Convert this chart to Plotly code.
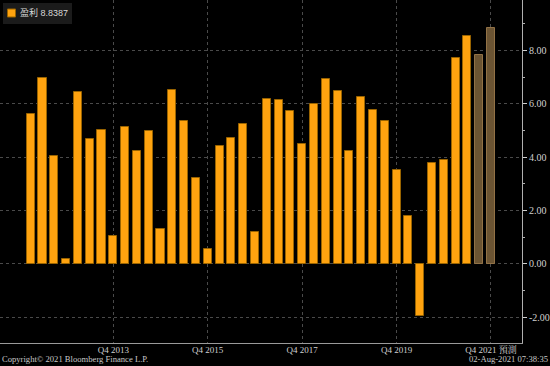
import plotly.graph_objects as go

quarters = [f"Q{q} {y}" for y in range(2012, 2022) for q in range(1, 5)]
actual_values = [5.63, 6.98, 4.03, 0.20, 6.45, 4.68, 5.02, 1.03,
                 5.15, 4.25, 4.98, 1.31, 6.53, 5.37, 3.21, 0.55,
                 4.43, 4.74, 5.23, 1.18, 6.17, 6.14, 5.72, 4.48,
                 6.00, 6.93, 6.48, 4.24, 6.27, 5.77, 5.37, 3.54,
                 1.80, -1.94, 3.80, 3.90, 7.72, 8.54]
forecast_values = [7.83, 8.8387]
tick_quarters = ["Q4 2013", "Q4 2015", "Q4 2017", "Q4 2019", "Q4 2021"]
tick_labels = ["Q4 2013", "Q4 2015", "Q4 2017", "Q4 2019", "Q4 2021 預測"]
y_ticks = [-2, 0, 2, 4, 6, 8]
legend_label = "盈利"
legend_value = "8.8387"

n_act = len(actual_values)
x_act = list(range(n_act))
x_fc = list(range(n_act, n_act + len(forecast_values)))
tick_idx = [quarters.index(q) for q in tick_quarters]

serif = "Liberation Serif, Noto Serif CJK TC, Noto Sans CJK TC, serif"
sans = "Liberation Sans, Noto Sans CJK TC, sans-serif"

PW, PH = 522, 343  # plot area size in px


def px(x):
    return x / PW


def py(y):
    return 1 - y / PH


fig = go.Figure()
fig.add_trace(go.Bar(
    x=x_act, y=actual_values, name=legend_label, width=0.68,
    marker=dict(color="#FFA30F", line=dict(color="#9A6400", width=1)),
))
fig.add_trace(go.Bar(
    x=x_fc, y=forecast_values, name="預測", width=0.68,
    marker=dict(color="#6B5433", line=dict(color="#927246", width=1)),
))

fig.update_layout(
    width=550, height=366,
    margin=dict(l=0, r=28, t=0, b=23, autoexpand=False),
    paper_bgcolor="#000000", plot_bgcolor="#000000",
    showlegend=False,
    bargap=0,
)
fig.update_xaxes(
    range=[-2.6, 41.63], automargin=False,
    tickmode="array", tickvals=tick_idx, ticktext=tick_labels,
    showgrid=True, gridcolor="#4a4a4a", griddash="dot", gridwidth=1,
    showline=True, linecolor="#9a9a9a", linewidth=1,
    ticks="", zeroline=False, ticklabelstandoff=-2,
    tickfont=dict(family=serif, size=9, color="#d0d0d0"),
)
fig.update_yaxes(
    side="right", range=[-2.97, 9.9], automargin=False,
    tickmode="array", tickvals=y_ticks,
    ticktext=[f"{v:.2f}" for v in y_ticks],
    showgrid=True, gridcolor="#4a4a4a", griddash="dot", gridwidth=1,
    zeroline=False,
    showline=True, linecolor="#b0b0b0", linewidth=1,
    ticks="outside", ticklen=4, tickcolor="#d0d0d0",
    minor=dict(dtick=1, tick0=1, ticks="outside", ticklen=2, tickcolor="#b0b0b0", showgrid=False),
    tickfont=dict(family=serif, size=10, color="#d0d0d0"),
)

# legend box
fig.add_shape(type="rect", xref="paper", yref="paper",
              x0=px(3), x1=px(72), y0=py(24), y1=py(3),
              fillcolor="#1b1b1b", line=dict(width=0), layer="above")
fig.add_shape(type="rect", xref="paper", yref="paper",
              x0=px(7.5), x1=px(15.5), y0=py(17), y1=py(9),
              fillcolor="#FFA30F", line=dict(color="#9A6400", width=1), layer="above")
fig.add_annotation(
    text=f"{legend_label} {legend_value}", xref="paper", yref="paper",
    x=px(18), y=py(13), xanchor="left", yanchor="middle", showarrow=False,
    font=dict(family=sans, size=9, color="#d8d8d8"),
)

fig.add_annotation(
    text="Copyright© 2021 Bloomberg Finance L.P.", xref="paper", yref="paper",
    x=0, y=py(359), xanchor="left", yanchor="middle", showarrow=False,
    font=dict(family=serif, size=8.6, color="#c8c8c8"),
)
fig.add_annotation(
    text="02-Aug-2021 07:38:35", xref="paper", yref="paper",
    x=px(550), y=py(359), xanchor="right", yanchor="middle", showarrow=False,
    font=dict(family=serif, size=8.6, color="#c8c8c8"),
)
fig.write_html("out.html", config={"displayModeBar": False},
               post_script="document.body.style.margin='0';")
